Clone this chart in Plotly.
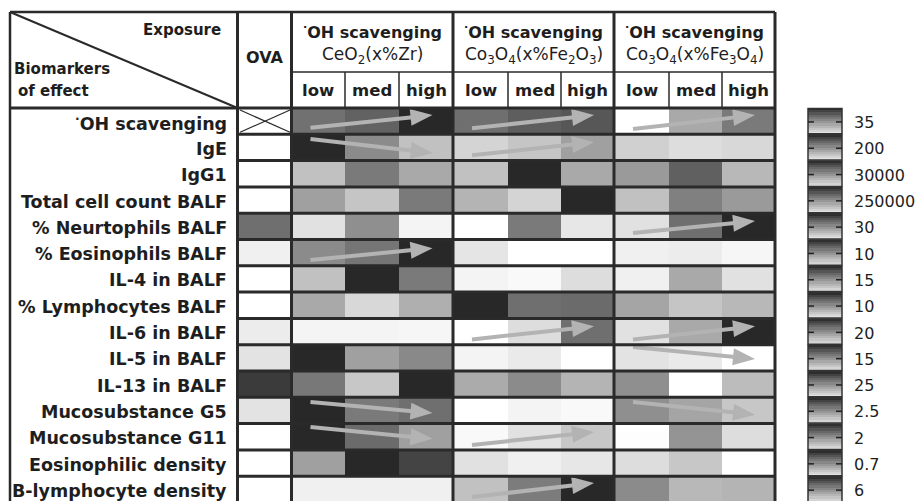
import math
import plotly.graph_objects as go

W, H = 919, 501

# ---------------- data ----------------
row_labels = ["<sup>·</sup>OH scavenging", "IgE", "IgG1", "Total cell count BALF",
              "% Neurtophils BALF", "% Eosinophils BALF", "IL-4 in BALF",
              "% Lymphocytes BALF", "IL-6 in BALF", "IL-5 in BALF",
              "IL-13 in BALF", "Mucosubstance G5", "Mucosubstance G11",
              "Eosinophilic density", "B-lymphocyte density"]
group_titles = ["CeO<sub>2</sub>(x%Zr)",
                "Co<sub>3</sub>O<sub>4</sub>(x%Fe<sub>2</sub>O<sub>3</sub>)",
                "Co<sub>3</sub>O<sub>4</sub>(x%Fe<sub>3</sub>O<sub>4</sub>)"]
levels = ["low", "med", "high"]
scale_labels = ["35", "200", "30000", "250000", "30", "10", "15", "10",
                "20", "15", "25", "2.5", "2", "0.7", "6"]

# relative intensity (0 = white, 1 = darkest)
ova = [None, 0.0, 0.0, 0.0, 0.67, 0.07, 0.0, 0.0, 0.09, 0.13, 0.91, 0.13, 0.0, 0.0, 0.0]
ceo2 = [[0.66, 0.73, 1.00], [1.00, 0.54, 0.29], [0.29, 0.62, 0.40], [0.44, 0.27, 0.62],
        [0.14, 0.52, 0.05], [0.54, 0.64, 1.00], [0.29, 1.00, 0.62], [0.40, 0.18, 0.37],
        [0.05, 0.05, 0.04], [1.00, 0.44, 0.55], [0.63, 0.26, 1.00], [1.00, 0.62, 0.67],
        [1.00, 0.69, 0.44], [0.44, 1.00, 0.87], [0.07, 0.07, 0.07]]
fe2o3 = [[0.67, 0.75, 0.78], [0.20, 0.27, 0.44], [0.29, 1.00, 0.40], [0.35, 0.20, 1.00],
         [0.00, 0.62, 0.11], [0.12, 0.00, 0.00], [0.05, 0.03, 0.16], [1.00, 0.67, 0.69],
         [0.00, 0.16, 0.67], [0.05, 0.10, 0.00], [0.39, 0.54, 0.35], [0.00, 0.05, 0.03],
         [0.03, 0.14, 0.26], [0.14, 0.07, 0.11], [0.29, 0.61, 1.00]]
fe3o4 = [[0.00, 0.40, 0.62], [0.22, 0.16, 0.18], [0.47, 0.74, 0.33], [0.29, 0.59, 0.47],
         [0.14, 0.67, 1.00], [0.07, 0.09, 0.04], [0.07, 0.40, 0.14], [0.42, 0.27, 0.33],
         [0.14, 0.40, 1.00], [0.13, 0.10, 0.00], [0.52, 0.00, 0.31], [0.52, 0.42, 0.26],
         [0.01, 0.50, 0.16], [0.16, 0.26, 0.00], [0.54, 0.33, 0.35]]

# trend arrows: (row, group, start height fraction, end height fraction)
arrows = [(0, 0, 0.75, 0.27), (0, 1, 0.77, 0.27), (0, 2, 0.80, 0.27),
          (1, 0, 0.18, 0.71), (1, 1, 0.80, 0.30),
          (4, 2, 0.75, 0.30),
          (5, 0, 0.78, 0.33),
          (8, 1, 0.80, 0.30), (8, 2, 0.80, 0.30),
          (9, 2, 0.09, 0.54),
          (11, 0, 0.18, 0.60), (11, 2, 0.18, 0.66),
          (12, 0, 0.13, 0.58), (12, 1, 0.81, 0.32),
          (14, 1, 0.79, 0.26)]

# ---------------- geometry ----------------
TOP, HDR_MID, HDR_BOT, ROW_H = 12, 72, 108, 26.3
LEFT, LABEL_R = 10, 237.5
col_edges = [238, 291.5, 345, 399, 453, 508, 561, 614, 669, 722, 775]
group_edges = [291.5, 453, 614, 775]
RIGHT = 775
nrows = len(row_labels)
row_edges = [HDR_BOT + i * ROW_H for i in range(nrows + 1)]

INK = "#1e1e1e"
FONT = "DejaVu Sans"
gray_scale = [[0, "#ffffff"], [1, "#282828"]]

z = []
for i in range(nrows):
    z.append([ova[i]] + ceo2[i] + fe2o3[i] + fe3o4[i])

fig = go.Figure()
fig.add_trace(go.Heatmap(z=z, x=col_edges, y=row_edges, colorscale=gray_scale,
                         zmin=0, zmax=1, showscale=False, hoverinfo="skip"))

# segmented legend bars (one gradient block per biomarker row)
CB_L, CB_R = 808, 842
cb_y, cb_z = [row_edges[0]], []
SUB = 12
for i in range(nrows):
    for k in range(SUB):
        t = k / (SUB - 1)
        cb_y.append(row_edges[i] + ROW_H * (k + 1) / SUB)
        cb_z.append([0.97 - 0.84 * (t ** 0.9)])
fig.add_trace(go.Heatmap(z=cb_z, x=[CB_L, CB_R], y=cb_y,
                         colorscale=gray_scale, zmin=0, zmax=1, showscale=False,
                         hoverinfo="skip"))

shapes = []


def line(x0, y0, x1, y1, w=2.5, c="#2a2a2a"):
    shapes.append(dict(type="line", xref="x", yref="y", x0=x0, y0=y0, x1=x1, y1=y1,
                       line=dict(color=c, width=w)))


# arrows
ARROW_C = "#b3b3b3"
for (r, g, f0, f1) in arrows:
    gl = group_edges[g]
    x0, x1 = gl + 19, gl + 141
    y0 = row_edges[r] + f0 * ROW_H
    y1 = row_edges[r] + f1 * ROW_H
    dx, dy = x1 - x0, y1 - y0
    L = math.hypot(dx, dy)
    ux, uy = dx / L, dy / L
    px, py = -uy, ux
    hl, hw = 22, 8.5
    bx, by = x1 - ux * hl, y1 - uy * hl
    line(x0, y0, bx + ux * 2, by + uy * 2, w=4, c=ARROW_C)
    shapes.append(dict(type="path", xref="x", yref="y",
                       path=f"M {x1},{y1} L {bx + px * hw},{by + py * hw} L {bx - px * hw},{by - py * hw} Z",
                       fillcolor=ARROW_C, line=dict(width=0)))

# header frame
line(LEFT, TOP, RIGHT, TOP, 2.5)
line(LEFT, TOP, LEFT, H + 5, 2.5)
line(LABEL_R, TOP, LABEL_R, H + 5, 3)
for xg in group_edges:
    line(xg, TOP, xg, H + 5, 3)
line(group_edges[0], HDR_MID, RIGHT, HDR_MID, 1.5)
for xc in [345, 399, 508, 561, 669, 722]:
    line(xc, HDR_MID, xc, HDR_BOT, 1.5)
line(LEFT, TOP, LABEL_R, HDR_BOT, 2)
line(LEFT, HDR_BOT, RIGHT, HDR_BOT, 3)
# row separators
for y in row_edges[1:]:
    line(LABEL_R, y, RIGHT, y, 3)
# crossed OVA cell
line(240, row_edges[0] + 2, 290, row_edges[1] - 2, 1.2)
line(240, row_edges[1] - 2, 290, row_edges[0] + 2, 1.2)

# legend bar frames and ticks
for i in range(nrows):
    y0, y1 = row_edges[i], row_edges[i + 1]
    shapes.append(dict(type="rect", xref="x", yref="y", x0=CB_L, x1=CB_R, y0=y0 + 0.5, y1=y1 - 0.5,
                       line=dict(color="#333333", width=1.5)))
    yt = y0 + 0.53 * ROW_H
    line(CB_L, yt, CB_L + 6, yt, 1.5, "#222222")
    line(CB_R - 6, yt, CB_R, yt, 1.5, "#222222")

ann = []


def text(x, y, s, size, bold=True, xa="center"):
    ann.append(dict(x=x, y=y, xref="x", yref="y", text=s, showarrow=False,
                    xanchor=xa, yanchor="middle",
                    font=dict(family=FONT, size=size, color=INK,
                              weight="bold" if bold else "normal")))


text(223, 30, "Exposure", 15, True, "right")
text(12, 69, "Biomarkers", 15, True, "left")
text(16, 91, "of effect", 15, True, "left")
text((LABEL_R + group_edges[0]) / 2, 57, "OVA", 16, True)
for g in range(3):
    cx = (group_edges[g] + group_edges[g + 1]) / 2
    text(cx, 31, "<sup>·</sup>OH scavenging", 16, True)
    text(cx, 55.5, group_titles[g], 17, False)
    for k in range(3):
        c0 = col_edges[1 + g * 3 + k]
        c1 = col_edges[2 + g * 3 + k]
        text((c0 + c1) / 2, 90, levels[k], 16.5, True)
for i in range(nrows):
    yc = (row_edges[i] + row_edges[i + 1]) / 2 + 1.5
    text(229, yc, row_labels[i], 17.5, True, "right")
    text(852, yc, scale_labels[i], 16, False, "left")

fig.update_layout(
    width=W, height=H, margin=dict(l=0, r=0, t=0, b=0),
    paper_bgcolor="white", plot_bgcolor="white",
    xaxis=dict(range=[0, W], visible=False, fixedrange=True),
    yaxis=dict(range=[H, 0], visible=False, fixedrange=True),
    shapes=shapes, annotations=ann, showlegend=False,
)
fig.write_html("out.html")
